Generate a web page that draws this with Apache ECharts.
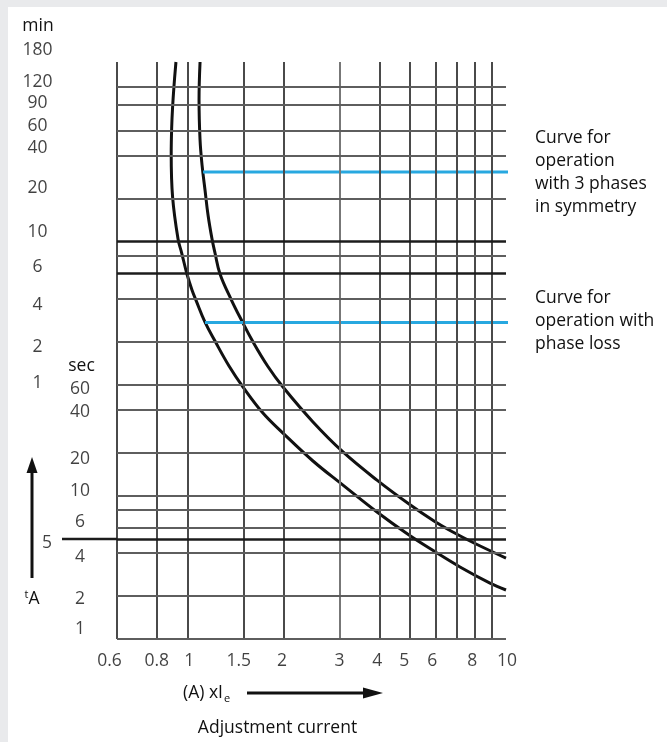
<!DOCTYPE html>
<html><head><meta charset="utf-8">
<script src="https://cdn.jsdelivr.net/npm/echarts@6/dist/echarts.min.js"></script>
<style>html,body{margin:0;padding:0;background:#fff}#c{width:667px;height:742px}</style>
</head><body><div id="c"></div>
<script>
// ---- data (x: multiple of Ie, y: seconds) ----
const xGridValues = [0.6, 0.8, 1, 1.5, 2, 3, 4, 5, 6, 7, 8, 9];
const xTickLabels = [0.6, 0.8, 1, 1.5, 2, 3, 4, 5, 6, 8, 10];
const yGridSeconds = [1, 2, 4, 5, 6, 8, 10, 20, 40, 60, 120, 240, 360, 480, 600, 1200, 2400, 3600, 5400, 7200];
const yDarkSeconds = [5, 360, 600];
const minuteLabels = [180, 120, 90, 60, 40, 20, 10, 6, 4, 2, 1];
const secondLabels = [60, 40, 20, 10, 6, 4, 2, 1];
const markerSecond = 5;
const threePhaseCurve = [
  [1.094, 10800], [1.086, 5855], [1.094, 3077], [1.110, 2057], [1.134, 1376], [1.159, 920],
  [1.193, 625], [1.219, 499], [1.264, 356], [1.368, 238], [1.487, 164], [1.599, 121],
  [1.785, 80.7], [1.993, 57.7], [2.476, 32.9], [3.076, 20.3],
  [3.933, 12.9], [4.958, 8.78], [5.94, 6.68], [6.716, 5.69], [7.933, 4.69], [10, 3.68]
];
const phaseLossCurve = [
  [0.919, 10800], [0.906, 7337], [0.897, 5232], [0.891, 3733], [0.888, 2456], [0.897, 1229],
  [0.933, 625], [0.958, 499], [0.995, 356], [1.032, 275], [1.062, 234], [1.134, 164],
  [1.219, 121], [1.349, 81.0], [1.493, 57.7], [1.724, 38.0], [1.993, 27.5], [2.476, 17.55],
  [3.076, 11.9], [3.933, 7.72], [4.958, 5.33], [5.94, 4.12], [7.17, 3.19], [8.906, 2.46], [10, 2.20]
];
const symmetryMarker = [[1.118, 1840], [11.5, 1840]];
const phaseLossMarker = [[1.134, 163], [11.5, 163]];

// ---- presentation (pixel nudges for labels) ----
const minuteNudge = [-12, -5, -2, -4, -7, -10, -10, -6, 7, 5, -2];
const secondNudge = [4, 2, 6, -5, -6, 4, 3, -10];
const xLabelNudge = [-7.5, 0, 1.5, -5, -1.5, 0, -2, -6, -3, -3, 1];

const FONT = 'Open Sans';
const FS = 17.5;
const FONTSTR = FS + 'px "Open Sans"';
const TXT = '#111111';
const chart = echarts.init(document.getElementById('c'), null, {renderer: 'canvas'});

const vLines = xGridValues.map(v => ({xAxis: v, lineStyle: {type: 'solid', color: v === 3 ? '#777777' : '#4a4a4a', width: 2}}));
const hLines = yGridSeconds.map(v => ({yAxis: v, lineStyle: yDarkSeconds.includes(v) ? {type: 'solid', color: '#1c1c1c', width: 2.5} : {type: 'solid', color: '#5e5e5e', width: 2}}));

const lblBase = {show: true, position: 'inside', align: 'center', verticalAlign: 'middle', fontFamily: FONT, fontSize: FS, color: TXT, formatter: '{b}'};
const hiddenSym = {symbolSize: 0.1, itemStyle: {color: 'rgba(0,0,0,0)'}, silent: true, clip: false, z: 5};

chart.setOption({
  animation: false,
  backgroundColor: '#ffffff',
  grid: {left: 117, right: 161, top: 62, bottom: 103, containLabel: false},
  xAxis: {type: 'log', logBase: 10, min: 0.6, max: 10, axisLine: {show: false}, axisTick: {show: false}, axisLabel: {show: false}, splitLine: {show: false}},
  yAxis: {type: 'log', logBase: 10, min: 1, max: 10800, axisLine: {show: false}, axisTick: {show: false}, axisLabel: {show: false}, splitLine: {show: false}},
  series: [
    {type: 'line', data: [[0.6, 1]], symbol: 'none', lineStyle: {opacity: 0}, silent: true, z: 1,
     markLine: {symbol: 'none', silent: true, animation: false, label: {show: false}, lineStyle: {type: 'solid'}, data: vLines.concat(hLines)}},
    {type: 'line', name: 'phase loss', data: phaseLossCurve, smooth: 0.4, symbol: 'none', clip: false, z: 3,
     lineStyle: {color: '#111', width: 3}},
    {type: 'line', name: '3 phases', data: threePhaseCurve, smooth: 0.4, symbol: 'none', clip: false, z: 3,
     lineStyle: {color: '#111', width: 3}},
    {type: 'line', data: symmetryMarker, symbol: 'none', clip: false, z: 4, lineStyle: {color: '#27a8e0', width: 3}},
    {type: 'line', data: phaseLossMarker, symbol: 'none', clip: false, z: 4, lineStyle: {color: '#27a8e0', width: 3}},
    Object.assign({type: 'scatter', data: minuteLabels.map((m, i) => ({name: String(m), value: [0.6, m * 60], label: Object.assign({}, lblBase, {offset: [-79.5, minuteNudge[i]]})}))}, hiddenSym),
    Object.assign({type: 'scatter', data: secondLabels.map((s, i) => ({name: String(s), value: [0.6, s], label: Object.assign({}, lblBase, {offset: [-37, secondNudge[i]]})}))}, hiddenSym),
    Object.assign({type: 'scatter', data: [{name: String(markerSecond), value: [0.6, markerSecond], label: Object.assign({}, lblBase, {offset: [-70, 4]})}]}, hiddenSym),
    Object.assign({type: 'scatter', data: xTickLabels.map((v, i) => ({name: String(v), value: [v, 1], label: Object.assign({}, lblBase, {offset: [xLabelNudge[i], 22]})}))}, hiddenSym)
  ]
});

const y5 = chart.convertToPixel({yAxisIndex: 0}, markerSecond);
const x0 = chart.convertToPixel({xAxisIndex: 0}, 0.6);

chart.setOption({
  graphic: [
    {type: 'rect', shape: {x: 0, y: 0, width: 667, height: 7}, style: {fill: '#e9eaec'}, silent: true, z: 100},
    {type: 'rect', shape: {x: 0, y: 0, width: 8, height: 742}, style: {fill: '#e9eaec'}, silent: true, z: 100},
    {type: 'line', shape: {x1: 62, y1: y5, x2: x0, y2: y5}, style: {stroke: '#1c1c1c', lineWidth: 2.5}, silent: true, z: 10},
    {type: 'text', x: 38, y: 26, style: {text: 'min', font: FONTSTR, fill: TXT, align: 'center', verticalAlign: 'middle'}, z: 10},
    {type: 'text', x: 81.5, y: 366, style: {text: 'sec', font: FONTSTR, fill: TXT, align: 'center', verticalAlign: 'middle'}, z: 10},
    // vertical arrow tA
    {type: 'line', shape: {x1: 32, y1: 578, x2: 32, y2: 470}, style: {stroke: '#111', lineWidth: 3}, z: 10},
    {type: 'polygon', shape: {points: [[32, 457], [26.5, 473], [37.5, 473]]}, style: {fill: '#111'}, z: 10},
    {type: 'text', x: 32, y: 599, style: {text: '{t|t}{a|A}', rich: {t: {fontFamily: FONT, fontSize: 11, fill: TXT, verticalAlign: 'top', padding: [0, 0, 8, 0]}, a: {fontFamily: FONT, fontSize: FS, fill: TXT}}, align: 'center', verticalAlign: 'middle'}, z: 10},
    // x axis title
    {type: 'text', x: 183, y: 693, style: {text: '{a|(A) xI}{e|e}', rich: {a: {fontFamily: FONT, fontSize: FS, fill: TXT}, e: {fontFamily: FONT, fontSize: 11, fill: TXT, padding: [12, 0, 0, 1]}}, align: 'left', verticalAlign: 'middle'}, z: 10},
    {type: 'line', shape: {x1: 247, y1: 693, x2: 368, y2: 693}, style: {stroke: '#111', lineWidth: 3}, z: 10},
    {type: 'polygon', shape: {points: [[383, 693], [363, 687.5], [363, 698.5]]}, style: {fill: '#111'}, z: 10},
    {type: 'text', x: 277.5, y: 728, style: {text: 'Adjustment current', font: FONTSTR, fill: TXT, align: 'center', verticalAlign: 'middle'}, z: 10},
    // annotations
    {type: 'text', x: 535, y: 127, style: {text: 'Curve for\noperation\nwith 3 phases\nin symmetry', font: FONTSTR, lineHeight: 23, fill: TXT, align: 'left', verticalAlign: 'top'}, z: 10},
    {type: 'text', x: 535, y: 287, style: {text: 'Curve for\noperation with\nphase loss', font: FONTSTR, lineHeight: 23, fill: TXT, align: 'left', verticalAlign: 'top'}, z: 10}
  ]
});
</script>
</body></html>
